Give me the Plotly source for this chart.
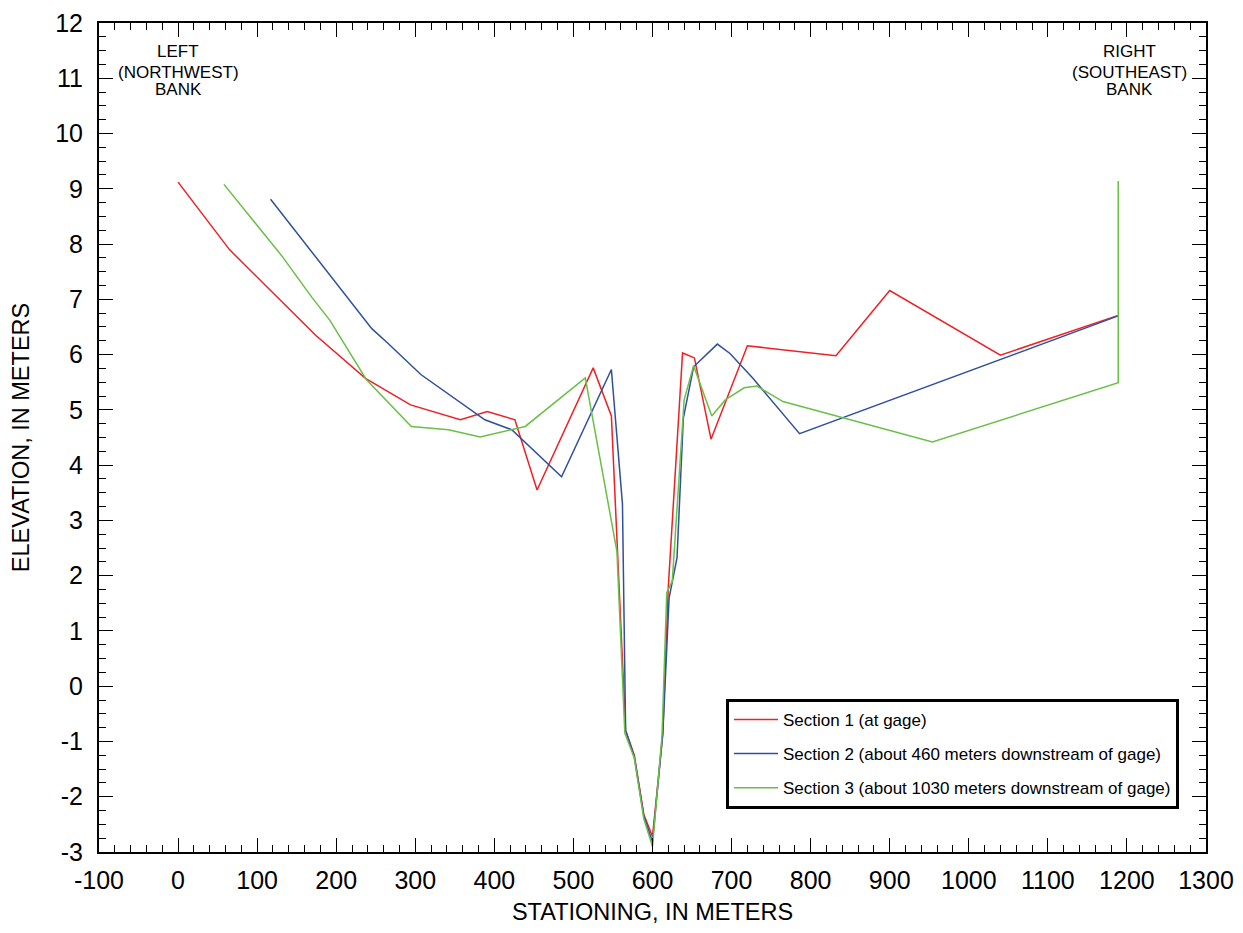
import plotly.graph_objects as go

# Section 1 (at gage)
sta1 = [0, 65, 174, 237, 294, 357, 391, 426, 454, 525, 548, 566, 577, 589, 600,
        613, 620, 638, 653, 674, 720, 832, 900, 1040, 1189]
elev1 = [9.12, 7.90, 6.35, 5.57, 5.09, 4.82, 4.97, 4.82, 3.55, 5.76, 4.89, -0.80, -1.25, -2.32, -2.72,
         -0.86, 1.80, 6.03, 5.94, 4.47, 6.16, 5.98, 7.16, 5.99, 6.71]

# Section 2 (about 460 meters downstream of gage)
sta2 = [117, 245, 265, 307, 388, 422, 485, 548, 562, 566, 577, 589, 600,
        613, 621, 631, 639, 652, 682, 698, 727, 786, 1189]
elev2 = [8.81, 6.47, 6.21, 5.64, 4.82, 4.64, 3.79, 5.73, 3.30, -0.80, -1.28, -2.35, -2.82,
         -0.86, 1.60, 2.32, 4.85, 5.78, 6.19, 6.02, 5.57, 4.57, 6.70]

# Section 3 (about 1030 meters downstream of gage)
sta3 = [58, 131, 169, 192, 238, 295, 342, 382, 439, 515, 555, 565, 577, 589, 600,
        612, 618, 625, 640, 652, 675, 692, 716, 732, 765, 954, 1189, 1189]
elev3 = [9.08, 7.79, 7.04, 6.62, 5.55, 4.70, 4.64, 4.51, 4.70, 5.58, 2.44, -0.85, -1.30, -2.40, -2.90,
         -0.90, 1.69, 1.90, 5.18, 5.80, 4.89, 5.18, 5.40, 5.43, 5.15, 4.42, 5.49, 9.14]

names = ["Section 1 (at gage)",
         "Section 2 (about 460 meters downstream of gage)",
         "Section 3 (about 1030 meters downstream of gage)"]
colors = ["#ee2024", "#2f4f9f", "#6abf47"]

# tick labels (plain hyphen minus, as in the original)
x_ticks = list(range(-100, 1301, 100))
x_labels = [str(v) for v in x_ticks]
y_ticks = list(range(-3, 13))
y_labels = [str(v) for v in y_ticks]

FONT = "Arial, Liberation Sans, sans-serif"

fig = go.Figure()
for i, (sx, sy) in enumerate([(sta1, elev1), (sta2, elev2), (sta3, elev3)]):
    fig.add_trace(go.Scatter(
        x=sx, y=sy, mode="lines", name=names[i],
        line=dict(color=colors[i], width=1.5),
        legendgroup=str(i),
    ))

axis_common = dict(
    showline=True, linecolor="black", linewidth=2, mirror="ticks",
    showgrid=False, zeroline=False,
    ticks="inside", ticklen=14, tickwidth=1, tickcolor="black",
    tickfont=dict(family=FONT, size=25, color="black"),
    tickmode="array",
    ticklabeloverflow="allow",
    automargin=False,
)

# the page body has an 8px margin, so the figure is shifted by that much
fig.update_layout(
    width=1227, height=917,
    margin=dict(l=91, r=29, t=15, b=73),
    paper_bgcolor="white", plot_bgcolor="white",
    font=dict(family=FONT, color="black"),
    xaxis=dict(
        range=[-100, 1300], tickvals=x_ticks, ticktext=x_labels,
        minor=dict(ticks="inside", ticklen=7, dtick=20, tick0=0, tickcolor="black", tickwidth=1),
        title=dict(text="STATIONING, IN METERS", font=dict(size=23.5), standoff=15),
        ticklabelstandoff=5,
        **axis_common,
    ),
    yaxis=dict(
        range=[-3, 12], tickvals=y_ticks, ticktext=y_labels,
        minor=dict(ticks="inside", ticklen=7, dtick=0.25, tick0=0, tickcolor="black", tickwidth=1),
        title=dict(text="ELEVATION, IN METERS", font=dict(size=23.5), standoff=20),
        ticklabelstandoff=9,
        **axis_common,
    ),
    legend=dict(
        x=0.5664, y=0.1846, xanchor="left", yanchor="top",
        bordercolor="black", borderwidth=3, bgcolor="white",
        font=dict(family=FONT, size=17, color="black"),
        traceorder="grouped", tracegroupgap=9, itemwidth=44,
    ),
    showlegend=True,
)

# bank labels
for xpos, lines in [(0, ["LEFT", "(NORTHWEST)", "BANK"]),
                    (1203, ["RIGHT", "(SOUTHEAST)", "BANK"])]:
    for k, txt in enumerate(lines):
        fig.add_annotation(
            x=xpos, xref="x", y=[0.9654, 0.9400, 0.9192][k], yref="paper",
            text=txt, showarrow=False, xanchor="center", yanchor="middle",
            font=dict(family=FONT, size=17, color="black"),
        )

fig.write_html("out.html")
